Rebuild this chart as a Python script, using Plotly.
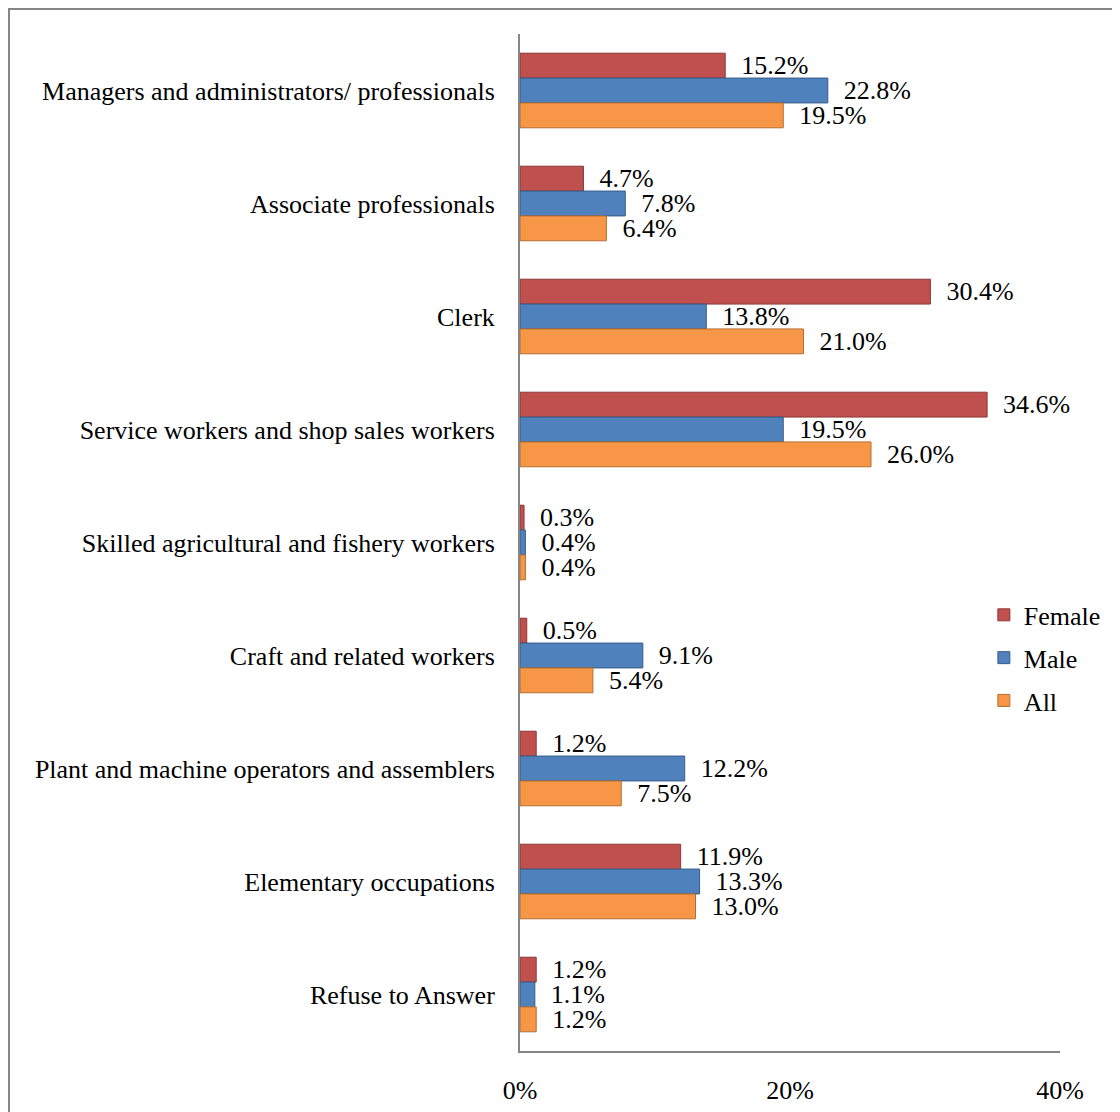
import plotly.graph_objects as go

# occupations, top to bottom
categories = [
    "Managers and administrators/ professionals",
    "Associate professionals",
    "Clerk",
    "Service workers and shop sales workers",
    "Skilled agricultural and fishery workers",
    "Craft and related workers",
    "Plant and machine operators and assemblers",
    "Elementary occupations",
    "Refuse to Answer",
]
female = [15.2, 4.7, 30.4, 34.6, 0.3, 0.5, 1.2, 11.9, 1.2]
male = [22.8, 7.8, 13.8, 19.5, 0.4, 9.1, 12.2, 13.3, 1.1]
all_ = [19.5, 6.4, 21.0, 26.0, 0.4, 5.4, 7.5, 13.0, 1.2]
x_ticks = [0, 20, 40]

series = [
    ("Female", female, "#C0504D", "#8C3836"),
    ("Male", male, "#4F81BD", "#385D8A"),
    ("All", all_, "#F79646", "#B66D31"),
]

FONT = "Liberation Serif, Times New Roman, serif"
W, H = 1120, 1104
L, R, T, B = 512, 68, 26, 61
pw, ph = W - L - R, H - T - B

fig = go.Figure()
for name, vals, fill, edge in series:
    fig.add_trace(go.Bar(
        y=categories, x=vals, orientation="h", name=name,
        legendgroup=name,
        marker=dict(color=fill, line=dict(color=edge, width=1)),
        text=["\u00a0\u00a0%.1f%%" % v for v in vals],
        textposition="outside", constraintext="none", cliponaxis=False,
        textfont=dict(family=FONT, size=26, color="black"),
    ))

fig.update_layout(
    width=W, height=H,
    barmode="group", bargap=0.34, bargroupgap=0,
    paper_bgcolor="white", plot_bgcolor="white",
    margin=dict(l=L, r=R, t=T, b=B, autoexpand=False),
    font=dict(family=FONT, size=26, color="black"),
    showlegend=True,
    legend=dict(
        x=0.859, y=0.3865, xanchor="left", yanchor="middle",
        traceorder="grouped", tracegroupgap=6,
        bgcolor="rgba(0,0,0,0)", font=dict(family=FONT, size=26),
    ),
    xaxis=dict(
        range=[0, 40], tickvals=x_ticks,
        ticktext=["%d%%" % v for v in x_ticks],
        showgrid=False, zeroline=False, showline=True,
        linecolor="#868686", linewidth=2, ticks="",
        ticklabelstandoff=15, automargin=False,
    ),
    yaxis=dict(
        autorange="reversed", showgrid=False, zeroline=False,
        showline=True, linecolor="#868686", linewidth=2, ticks="",
        ticklabelstandoff=18, automargin=False,
    ),
    shapes=[dict(
        type="rect", xref="paper", yref="paper",
        x0=(1 - L) / pw, x1=(W + 20 - L) / pw,
        y0=(H - B - H - 20) / ph, y1=(H - B - 1) / ph,
        line=dict(color="#868686", width=2), fillcolor="rgba(0,0,0,0)",
        layer="below",
    )],
)

fig.write_html("out.html")
